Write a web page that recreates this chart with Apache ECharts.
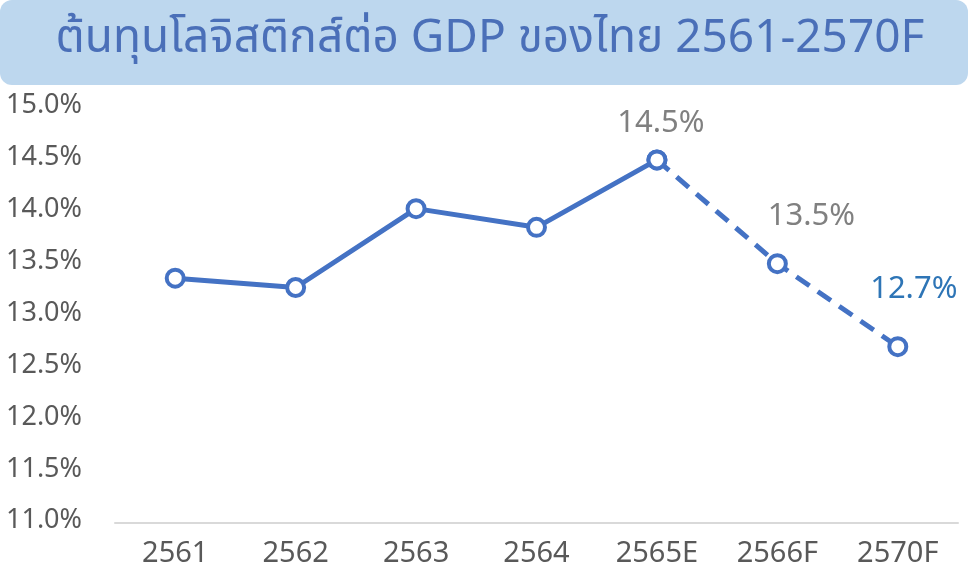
<!DOCTYPE html>
<html><head><meta charset="utf-8">
<script src="https://cdn.jsdelivr.net/npm/echarts@6/dist/echarts.min.js"></script>
<style>html,body{margin:0;padding:0;background:#fff}#c{width:968px;height:585px}</style>
</head><body><div id="c"></div>
<script>
const categories = ['2561','2562','2563','2564','2565E','2566F','2570F'];
const actualValues = [13.36, 13.27, 14.03, 13.85, 14.5, null, null];
const forecastValues = [null, null, null, null, 14.5, 13.5, 12.7];
const labelTexts = ['', '', '', '', '14.5%', '13.5%', '12.7%'];
const titleText = 'ต้นทุนโลจิสติกส์ต่อ GDP ของไทย 2561-2570F';

const FONT = '"Noto Sans Thai","Noto Sans","Open Sans",sans-serif';
const labelStyles = {
  4: {color:'#808080', offset:[4,0], distance:8},
  5: {color:'#808080', offset:[34,0], distance:19},
  6: {color:'#2e75b6', offset:[16,0], distance:29}
};
function mkData(vals, showLabels){
  return vals.map((v,i)=>{
    if(v==null) return null;
    const ls = labelStyles[i];
    if(showLabels && ls && labelTexts[i]){
      return {value:v, label:{show:true, position:'top', formatter:labelTexts[i], color:ls.color, offset:ls.offset, distance:ls.distance, fontSize:31, fontFamily:FONT}};
    }
    return {value:v};
  });
}
const chart = echarts.init(document.getElementById('c'), null, {renderer:'canvas'});
const lineColor = '#4472c4';
chart.setOption({
  animation:false,
  graphic:[
    {type:'rect', left:0, top:0, shape:{width:968, height:85, r:12}, style:{fill:'#bdd7ee'}, z:0},
    {type:'text', x:490, y:43, style:{text:titleText, fontSize:46, fill:'#4a6fb8', fontFamily:FONT, align:'center', verticalAlign:'middle'}, z:1}
  ],
  grid:{left:115, right:10, top:108, bottom:62},
  xAxis:{type:'category', data:categories, boundaryGap:true,
    axisLine:{lineStyle:{color:'#d9d9d9', width:2}}, axisTick:{show:false},
    axisLabel:{color:'#595959', fontSize:29, margin:19, fontFamily:FONT}},
  yAxis:{type:'value', min:11, max:15, interval:0.5,
    axisLine:{show:false}, axisTick:{show:false}, splitLine:{show:false},
    axisLabel:{color:'#595959', fontSize:27, margin:33, fontFamily:FONT, formatter:v=>v.toFixed(1)+'%'}},
  series:[
    {type:'line', data:mkData(actualValues,false), symbol:'circle', symbolSize:17,
      itemStyle:{color:'#fff', borderColor:lineColor, borderWidth:4},
      lineStyle:{color:lineColor, width:5}, z:2},
    {type:'line', data:mkData(forecastValues,true), symbol:'circle', symbolSize:17,
      itemStyle:{color:'#fff', borderColor:lineColor, borderWidth:4},
      lineStyle:{color:lineColor, width:5, type:[16,10]}, z:3}
  ]
});
</script></body></html>
